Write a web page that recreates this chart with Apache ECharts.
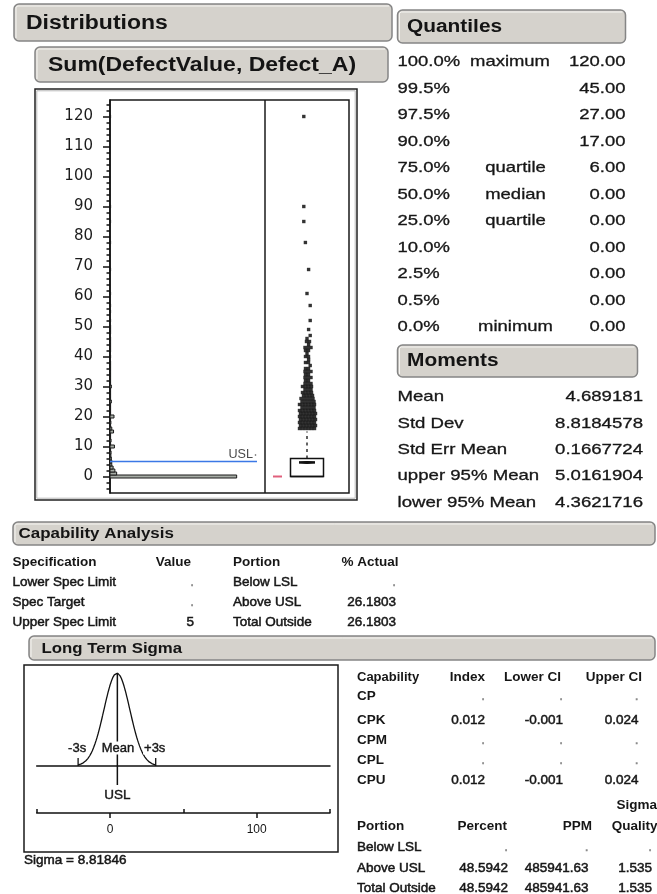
<!DOCTYPE html>
<html>
<head>
<meta charset="utf-8">
<script src="https://cdn.jsdelivr.net/npm/echarts@6/dist/echarts.min.js"></script>
<style>
  html, body { margin: 0; padding: 0; background: #fff; }
  #main { width: 657px; height: 894px; }
</style>
</head>
<body>
<div id="main"></div>
<script>
// ---- Histogram of Sum(DefectValue, Defect_A): bin centre (width 1) and count ----
const binValues = [0, 1, 2, 3, 4, 5, 6, 7, 8, 9, 10, 11, 12, 13, 14, 15, 16, 17, 18, 19, 20,
  21, 22, 23, 24, 25, 26, 27, 28, 29, 30, 31, 32, 33, 34, 35, 36, 37, 38, 40, 42, 43, 44, 45,
  46, 48, 49, 50, 52, 55, 57, 61, 69, 78, 85, 90, 120];
const binCounts = [1430, 75, 55, 35, 20, 20, 15, 10, 12, 6, 50, 5, 12, 5, 6, 40, 20, 6, 10, 4, 45,
  4, 6, 3, 5, 15, 3, 3, 4, 2, 15, 2, 3, 2, 2, 6, 2, 1, 2, 6, 2, 2, 1, 3,
  1, 1, 1, 3, 1, 2, 1, 1, 1, 1, 1, 1, 1];
const yTickValues = [0, 10, 20, 30, 40, 50, 60, 70, 80, 90, 100, 110, 120];

// ---- Outlier box plot ----
const upperWhisker = 15;
const outlierValues = [16, 17, 18, 19, 20, 21, 22, 23, 24, 25, 26, 27, 28, 29, 30, 31, 32, 33,
  34, 35, 36, 37, 38, 39, 40, 41, 42, 43, 44, 45, 46, 47, 49, 52, 57, 61, 69, 78, 85, 90, 120];
const outlierMarks = [6, 6, 6, 6, 6, 6, 6, 5, 6, 5, 5, 4, 4, 3, 4, 3, 2, 3,
  2, 3, 2, 1, 2, 1, 2, 1, 2, 3, 1, 2, 1, 1, 1, 1, 1, 1, 1, 1, 1, 1, 1];

// ---- Quantiles ----
const quantileLevels = ['100.0%', '99.5%', '97.5%', '90.0%', '75.0%', '50.0%', '25.0%', '10.0%', '2.5%', '0.5%', '0.0%'];
const quantileNames = ['maximum', '', '', '', 'quartile', 'median', 'quartile', '', '', '', 'minimum'];
const quantileValues = [120, 45, 27, 17, 6, 0, 0, 0, 0, 0, 0];

// ---- Moments ----
const momentNames = ['Mean', 'Std Dev', 'Std Err Mean', 'upper 95% Mean', 'lower 95% Mean'];
const momentValues = [4.689181, 8.8184578, 0.1667724, 5.0161904, 4.3621716];

// ---- Capability analysis ----
const specNames = ['Lower Spec Limit', 'Spec Target', 'Upper Spec Limit'];
const specValues = [null, null, 5];
const actualPortions = ['Below LSL', 'Above USL', 'Total Outside'];
const actualPercent = [null, 26.1803, 26.1803];

const capNames = ['CP', 'CPK', 'CPM', 'CPL', 'CPU'];
const capIndex = [null, 0.012, null, null, 0.012];
const capLowerCI = [null, -0.001, null, null, -0.001];
const capUpperCI = [null, 0.024, null, null, 0.024];

const portionNames = ['Below LSL', 'Above USL', 'Total Outside'];
const portionPercent = [null, 48.5942, 48.5942];
const portionPPM = [null, 485941.63, 485941.63];
const portionSigmaQuality = [null, 1.535, 1.535];

const sigmaTickValues = [0, 100];
const sigmaMinorTicks = [-50, 50, 150];
const LONG_TERM_SIGMA = 8.81846;

const MEAN = momentValues[0];
const LOWER95 = momentValues[4];
const UPPER95 = momentValues[3];
const USL = specValues[2];

// ---------------------------------------------------------------------------
const FONT = 'Liberation Sans';
const INK = '#161616';
const BOX_CX = 42;          // box plot centre on its own (pixel-like) x axis

function fmt(v, d) { return v === null ? '.' : v.toFixed(d); }

function txt(x, y, s, o) {
  o = o || {};
  const align = o.align || 'left';
  const style = {
    text: s, fontFamily: o.family || FONT, fontSize: o.size || 13,
    fontWeight: o.weight || 'normal', fill: o.color || INK,
    align: align, verticalAlign: 'middle', textAlign: align, textVerticalAlign: 'middle'
  };
  if (o.heavy) { style.stroke = o.color || INK; style.lineWidth = o.heavy; }
  return { type: 'text', x: x, y: y, scaleX: o.sx || 1, silent: true, z: 10, style: style };
}

function header(x, y, w, h, label, size, sx, tx) {
  return [
    { type: 'rect', z: 1, silent: true, shape: { x: x, y: y, width: w, height: h, r: 5 },
      style: { fill: '#d5d2cc', stroke: '#858585', lineWidth: 1.5 } },
    { type: 'polyline', z: 2, silent: true,
      shape: { points: [[x + 2, y + h - 3], [x + 2, y + 3], [x + 4, y + 2], [x + w - 3, y + 2]] },
      style: { stroke: '#f6f5f2', lineWidth: 1, fill: null } },
    txt(tx, y + h / 2 + 0.5, label, { size: size, weight: 'bold', sx: sx, color: '#141414' })
  ];
}

const graphics = [];
// section headers
graphics.push(...header(14, 4, 378, 37, 'Distributions', 20, 1.15, 26));
graphics.push(...header(35, 47, 353, 35, 'Sum(DefectValue, Defect_A)', 20, 1.15, 48));
graphics.push(...header(397.5, 10, 228, 33, 'Quantiles', 18, 1.16, 407));
graphics.push(...header(397.5, 345, 240, 32, 'Moments', 18, 1.16, 407));
graphics.push(...header(13, 522, 642, 23, 'Capability Analysis', 15, 1.13, 18.5));
graphics.push(...header(29, 636, 626, 24, 'Long Term Sigma', 15, 1.12, 41.5));

// distribution frames
graphics.push({ type: 'rect', silent: true, shape: { x: 35, y: 89, width: 322, height: 411 },
  style: { fill: null, stroke: '#222', lineWidth: 1.5 } });
graphics.push({ type: 'rect', silent: true, shape: { x: 36.8, y: 90.8, width: 318.4, height: 407.4 },
  style: { fill: null, stroke: '#b8b8b8', lineWidth: 1 } });
graphics.push({ type: 'rect', silent: true, shape: { x: 110, y: 100, width: 239, height: 393 },
  style: { fill: null, stroke: '#1a1a1a', lineWidth: 1.5 } });
graphics.push({ type: 'line', silent: true, shape: { x1: 265, y1: 100, x2: 265, y2: 493 },
  style: { stroke: '#1a1a1a', lineWidth: 1.5 } });

// quantiles table
quantileLevels.forEach((lvl, i) => {
  const y = 62 + i * 26.5;
  graphics.push(txt(397.5, y, lvl, { size: 15, sx: 1.23, heavy: 0.3 }));
  if (quantileNames[i]) {
    graphics.push(txt(quantileNames[i] === 'maximum' ? 510 : 515.5, y, quantileNames[i],
      { size: 15, sx: 1.23, align: 'center', heavy: 0.3 }));
  }
  graphics.push(txt(625.5, y, quantileValues[i].toFixed(2), { size: 15, sx: 1.23, align: 'right', heavy: 0.3 }));
});

// moments table
momentNames.forEach((nm, i) => {
  const y = 397 + i * 26.4;
  graphics.push(txt(397.5, y, nm, { size: 15, sx: 1.24, heavy: 0.3 }));
  graphics.push(txt(643, y, String(momentValues[i]), { size: 15, sx: 1.24, align: 'right', heavy: 0.3 }));
});

// capability analysis table
const capY = [582, 602.5, 622];
const SM = { size: 13.5, heavy: 0.5 };
function sm(extra) { return Object.assign({}, SM, extra || {}); }
graphics.push(txt(12.5, 562, 'Specification', sm({ weight: 'bold', heavy: 0 })));
graphics.push(txt(191, 562, 'Value', sm({ weight: 'bold', heavy: 0, align: 'right' })));
graphics.push(txt(233, 562, 'Portion', sm({ weight: 'bold', heavy: 0 })));
graphics.push(txt(398.5, 562, '% Actual', sm({ weight: 'bold', heavy: 0, align: 'right' })));
specNames.forEach((nm, i) => {
  graphics.push(txt(12.5, capY[i], nm, sm()));
  graphics.push(txt(194, capY[i], fmt(specValues[i], 0), sm({ align: 'right',
    color: specValues[i] === null ? '#8a8a8a' : INK })));
  graphics.push(txt(233, capY[i], actualPortions[i], sm()));
  graphics.push(txt(396, capY[i], fmt(actualPercent[i], 4), sm({ align: 'right',
    color: actualPercent[i] === null ? '#8a8a8a' : INK })));
});

// sigma plot frame and caption
graphics.push({ type: 'rect', silent: true, shape: { x: 24, y: 665, width: 314, height: 187 },
  style: { fill: null, stroke: '#1a1a1a', lineWidth: 1.5 } });
graphics.push(txt(24, 860, 'Sigma = ' + LONG_TERM_SIGMA, sm()));

// capability indices table
graphics.push(txt(357, 677, 'Capability', sm({ size: 13, weight: 'bold', heavy: 0 })));
graphics.push(txt(485, 677, 'Index', sm({ weight: 'bold', heavy: 0, align: 'right' })));
graphics.push(txt(561, 677, 'Lower CI', sm({ weight: 'bold', heavy: 0, align: 'right' })));
graphics.push(txt(642, 677, 'Upper CI', sm({ weight: 'bold', heavy: 0, align: 'right' })));
const capRowY = [696, 720, 740, 760, 780];
capNames.forEach((nm, i) => {
  const y = capRowY[i];
  graphics.push(txt(357, y, nm, sm({ weight: 'bold', heavy: 0 })));
  const miss = capIndex[i] === null;
  const c = miss ? '#8a8a8a' : INK;
  graphics.push(txt(485, y, fmt(capIndex[i], 3), sm({ align: 'right', color: c })));
  graphics.push(txt(563, y, fmt(capLowerCI[i], 3), sm({ align: 'right', color: c })));
  graphics.push(txt(638.5, y, fmt(capUpperCI[i], 3), sm({ align: 'right', color: c })));
});

// portion / PPM / sigma quality table
graphics.push(txt(657, 805, 'Sigma', sm({ weight: 'bold', heavy: 0, align: 'right' })));
graphics.push(txt(357, 826, 'Portion', sm({ weight: 'bold', heavy: 0 })));
graphics.push(txt(507, 826, 'Percent', sm({ weight: 'bold', heavy: 0, align: 'right' })));
graphics.push(txt(592, 826, 'PPM', sm({ weight: 'bold', heavy: 0, align: 'right' })));
graphics.push(txt(657.5, 826, 'Quality', sm({ weight: 'bold', heavy: 0, align: 'right' })));
const portRowY = [847, 868, 888];
portionNames.forEach((nm, i) => {
  const y = portRowY[i];
  const miss = portionPercent[i] === null;
  const c = miss ? '#8a8a8a' : INK;
  graphics.push(txt(357, y, nm, sm()));
  graphics.push(txt(508, y, fmt(portionPercent[i], 4), sm({ align: 'right', color: c })));
  graphics.push(txt(588.5, y, fmt(portionPPM[i], 2), sm({ align: 'right', color: c })));
  graphics.push(txt(652, y, fmt(portionSigmaQuality[i], 3), sm({ align: 'right', color: c })));
});

// ---------------------------------------------------------------------------
// jittered outlier marks around the box centre
const outlierPoints = [];
outlierValues.forEach((v, i) => {
  const n = outlierMarks[i];
  const shift = n === 1 ? (((v * 7) % 5) - 2) * 1.6 : ((v % 2) ? 1 : 0);
  for (let k = 0; k < n; k++) {
    outlierPoints.push([BOX_CX + (k - (n - 1) / 2) * 3 + shift, v]);
  }
});

// fitted normal curve from the stated mean and long-term sigma (peak scaled to 1)
const curvePoints = [];
for (let i = 0; i <= 120; i++) {
  const z = -3 + i * 0.05;
  curvePoints.push([MEAN + z * LONG_TERM_SIGMA, Math.exp(-0.5 * z * z)]);
}

const minorTicks = [];
for (let v = -4; v <= 124; v += 2) if (v % 10 !== 0) minorTicks.push(v);

const chart = echarts.init(document.getElementById('main'), null, { width: 657, height: 894 });

const AX = { color: '#111', width: 1.5 };
chart.setOption({
  animation: false,
  backgroundColor: '#fff',
  graphic: { elements: graphics },
  grid: [
    { left: 110, top: 100, width: 155, height: 393 },
    { left: 265, top: 100, width: 84, height: 393 },
    { left: 36.7, top: 673, width: 293.3, height: 93 }
  ],
  xAxis: [
    { gridIndex: 0, type: 'value', min: 0, max: 1750, show: false },
    { gridIndex: 1, type: 'value', min: 0, max: 84, show: false },
    { gridIndex: 2, type: 'value', min: -50, max: 150, position: 'bottom', offset: 47,
      axisLine: { show: true, onZero: false, lineStyle: AX },
      axisTick: { show: true, length: 5, customValues: sigmaTickValues, lineStyle: AX },
      axisLabel: { show: true, customValues: sigmaTickValues, fontFamily: FONT, fontSize: 12, color: INK, margin: 11 },
      splitLine: { show: false } },
    { gridIndex: 2, type: 'value', min: -50, max: 150, position: 'bottom', offset: 47,
      axisLine: { show: false, onZero: false },
      axisTick: { show: true, inside: true, length: 4, customValues: sigmaMinorTicks, lineStyle: AX },
      axisLabel: { show: false }, splitLine: { show: false } },
    { gridIndex: 2, type: 'value', min: -50, max: 150, position: 'bottom', offset: 0,
      axisLine: { show: true, onZero: false, lineStyle: AX },
      axisTick: { show: false }, axisLabel: { show: false }, splitLine: { show: false } }
  ],
  yAxis: [
    { gridIndex: 0, type: 'value', min: -5.5, max: 125.5, position: 'left',
      axisLine: { show: true, onZero: false, lineStyle: AX },
      axisTick: { show: true, length: 7, customValues: yTickValues, lineStyle: AX },
      axisLabel: { show: true, customValues: yTickValues, fontFamily: 'DejaVu Sans', fontSize: 15, color: '#1c1c1c', margin: 17 },
      splitLine: { show: false } },
    { gridIndex: 0, type: 'value', min: -5.5, max: 125.5, position: 'left',
      axisLine: { show: false, onZero: false },
      axisTick: { show: true, length: 3.5, customValues: minorTicks, lineStyle: AX },
      axisLabel: { show: false }, splitLine: { show: false } },
    { gridIndex: 1, type: 'value', min: -5.5, max: 125.5, show: false },
    { gridIndex: 2, type: 'value', min: 0, max: 1, show: false }
  ],
  series: [
    {
      name: 'Histogram', type: 'custom', xAxisIndex: 0, yAxisIndex: 0,
      data: binValues.map((v, i) => [binCounts[i], v]),
      renderItem: function (params, api) {
        const cnt = api.value(0), v = api.value(1);
        const a = api.coord([0, v + 0.5]);
        const b = api.coord([cnt, v - 0.5]);
        return { type: 'rect',
          shape: { x: a[0], y: a[1], width: Math.max(b[0] - a[0], 0.6), height: b[1] - a[1] },
          style: { fill: '#a6aca5', stroke: '#1a1a1a', lineWidth: 1 } };
      }
    },
    {
      name: 'USL', type: 'custom', xAxisIndex: 0, yAxisIndex: 0, data: [[0, USL]],
      renderItem: function (params, api) {
        const p = api.coord([0, api.value(1)]);
        const right = params.coordSys.x + params.coordSys.width - 8;
        return { type: 'group', children: [
          { type: 'line', shape: { x1: p[0], y1: p[1], x2: right, y2: p[1] },
            style: { stroke: '#3b78e6', lineWidth: 1.5 } },
          { type: 'text', x: right - 4, y: p[1] - 7, scaleX: 1.05,
            style: { text: 'USL', fontFamily: FONT, fontSize: 12, fill: '#4a4a4a',
              align: 'right', verticalAlign: 'middle' } },
          { type: 'circle', shape: { cx: right - 1.5, cy: p[1] - 6.5, r: 0.8 }, style: { fill: '#555' } }
        ] };
      }
    },
    {
      name: 'Box', type: 'custom', xAxisIndex: 1, yAxisIndex: 2,
      data: [[quantileValues[6], quantileValues[5], quantileValues[4], upperWhisker, MEAN, LOWER95, UPPER95]],
      renderItem: function (params, api) {
        const q1 = api.value(0), med = api.value(1), q3 = api.value(2), wh = api.value(3);
        const mn = api.value(4), lo = api.value(5), hi = api.value(6);
        const c = (x, v) => api.coord([x, v]);
        const b1 = c(BOX_CX - 16.5, q3), b2 = c(BOX_CX + 16.5, q1);
        const w1 = c(BOX_CX, q3), w2 = c(BOX_CX, wh);
        const m = c(BOX_CX, mn), mh = c(BOX_CX, hi), ml = c(BOX_CX, lo);
        const md = c(BOX_CX, med);
        const sh1 = c(8, quantileValues[5]), sh2 = c(17, quantileValues[5]);
        return { type: 'group', children: [
          { type: 'line', shape: { x1: w1[0], y1: w1[1], x2: w2[0], y2: w2[1] },
            style: { stroke: '#111', lineWidth: 1.3, lineDash: [3, 3.5] } },
          { type: 'rect', shape: { x: b1[0], y: b1[1], width: b2[0] - b1[0], height: b2[1] - b1[1] },
            style: { fill: '#fff', stroke: '#111', lineWidth: 1.5 } },
          { type: 'line', shape: { x1: b1[0], y1: md[1], x2: b2[0], y2: md[1] },
            style: { stroke: '#111', lineWidth: 1.5 } },
          { type: 'polygon', shape: { points: [[m[0] - 8, m[1]], [mh[0], mh[1]], [m[0] + 8, m[1]], [ml[0], ml[1]]] },
            style: { fill: '#111', stroke: '#111', lineWidth: 1 } },
          { type: 'line', shape: { x1: m[0] - 8, y1: m[1], x2: m[0] + 8, y2: m[1] },
            style: { stroke: '#111', lineWidth: 2.5 } },
          { type: 'line', shape: { x1: sh1[0], y1: sh1[1], x2: sh2[0], y2: sh2[1] },
            style: { stroke: '#e0607c', lineWidth: 2 } }
        ] };
      }
    },
    {
      name: 'Outliers', type: 'scatter', xAxisIndex: 1, yAxisIndex: 2,
      symbol: 'rect', symbolSize: 3.4, data: outlierPoints,
      itemStyle: { color: '#000' }, silent: true
    },
    {
      name: 'Normal', type: 'line', xAxisIndex: 2, yAxisIndex: 3,
      data: curvePoints, showSymbol: false, smooth: false,
      lineStyle: { color: '#111', width: 1.3 }, silent: true
    },
    {
      name: 'SigmaMarks', type: 'custom', xAxisIndex: 2, yAxisIndex: 3,
      data: [[MEAN, LONG_TERM_SIGMA, USL]], z: 5,
      renderItem: function (params, api) {
        const mean = api.value(0), s = api.value(1), usl = api.value(2);
        const base = api.coord([mean, 0])[1];
        const top = api.coord([mean, 1])[1];
        const xm = api.coord([mean, 0])[0];
        const xl = api.coord([mean - 3 * s, 0])[0];
        const xr = api.coord([mean + 3 * s, 0])[0];
        const xu = api.coord([usl, 0])[0];
        const lab = (x, y, t) => ({ type: 'text', x: x, y: y,
          style: { text: t, fontFamily: FONT, fontSize: 13, fill: INK, align: 'center',
            verticalAlign: 'middle', backgroundColor: '#fff', padding: [0, 1],
            stroke: INK, lineWidth: 0.4 } });
        return { type: 'group', children: [
          { type: 'line', shape: { x1: xu, y1: top, x2: xu, y2: base + 19 }, style: { stroke: '#111', lineWidth: 1.5 } },
          { type: 'line', shape: { x1: xl, y1: base - 8, x2: xl, y2: base }, style: { stroke: '#111', lineWidth: 1.3 } },
          { type: 'line', shape: { x1: xr, y1: base - 8, x2: xr, y2: base }, style: { stroke: '#111', lineWidth: 1.3 } },
          lab(xl - 1, base - 18, '-3s'),
          lab(xm + 1, base - 18, 'Mean'),
          lab(xr - 1, base - 18, '+3s'),
          { type: 'text', x: xu, y: base + 29,
            style: { text: 'USL', fontFamily: FONT, fontSize: 13.5, fill: INK, align: 'center',
              verticalAlign: 'middle', stroke: INK, lineWidth: 0.4 } }
        ] };
      }
    }
  ]
});
</script>
</body>
</html>
